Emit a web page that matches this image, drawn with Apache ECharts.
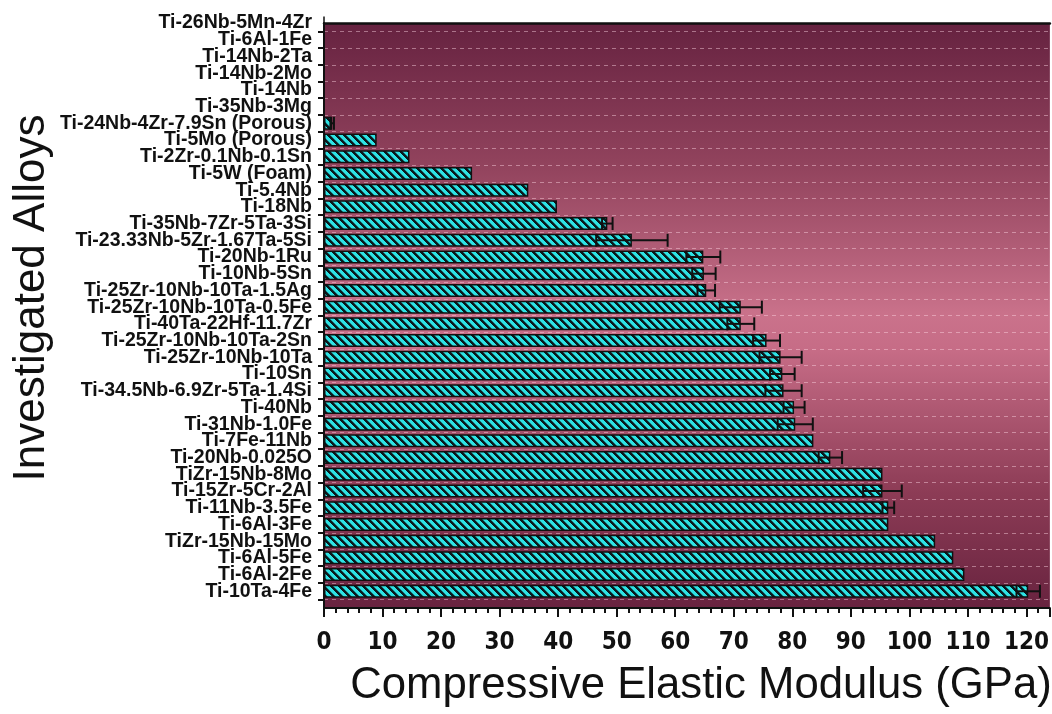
<!DOCTYPE html>
<html>
<head>
<meta charset="utf-8">
<script src="https://cdn.jsdelivr.net/npm/echarts@6/dist/echarts.min.js"></script>
<style>
html,body{margin:0;padding:0;background:#fff;}
#chart{width:1052px;height:714px;}
</style>
</head>
<body>
<div id="chart"></div>
<script>
// ---- data (top to bottom) ----
const categories = [
  'Ti-26Nb-5Mn-4Zr','Ti-6Al-1Fe','Ti-14Nb-2Ta','Ti-14Nb-2Mo','Ti-14Nb','Ti-35Nb-3Mg',
  'Ti-24Nb-4Zr-7.9Sn (Porous)','Ti-5Mo (Porous)','Ti-2Zr-0.1Nb-0.1Sn','Ti-5W (Foam)',
  'Ti-5.4Nb','Ti-18Nb','Ti-35Nb-7Zr-5Ta-3Si','Ti-23.33Nb-5Zr-1.67Ta-5Si','Ti-20Nb-1Ru',
  'Ti-10Nb-5Sn','Ti-25Zr-10Nb-10Ta-1.5Ag','Ti-25Zr-10Nb-10Ta-0.5Fe','Ti-40Ta-22Hf-11.7Zr',
  'Ti-25Zr-10Nb-10Ta-2Sn','Ti-25Zr-10Nb-10Ta','Ti-10Sn','Ti-34.5Nb-6.9Zr-5Ta-1.4Si',
  'Ti-40Nb','Ti-31Nb-1.0Fe','Ti-7Fe-11Nb','Ti-20Nb-0.025O','TiZr-15Nb-8Mo',
  'Ti-15Zr-5Cr-2Al','Ti-11Nb-3.5Fe','Ti-6Al-3Fe','TiZr-15Nb-15Mo','Ti-6Al-5Fe',
  'Ti-6Al-2Fe','Ti-10Ta-4Fe'
];
const modulus = [0,0,0,0,0,0,1.4,9,14.6,25.3,34.9,39.8,48.4,52.6,64.8,64.9,65.3,71.2,71.2,
  75.6,78,78.3,78.5,80.3,80.5,83.6,86.5,95.4,95.4,96.4,96.4,104.4,107.5,109.4,120.3];
const errors = [0,0,0,0,0,0,0.3,0,0,0,0,0,0.9,6.1,2.9,2,1.5,3.6,2.3,2.3,3.6,2.1,3.1,1.8,3,
  0,2,0,3.3,1,0,0,0,0,2];
const xTicks = {min:0, max:124, interval:10};

// category axis with one empty slot at the bottom
const yCats = categories.concat(['']);
const barData = modulus.concat([null]);
const errData = modulus.map((v,i)=>[v, i, errors[i]]);
// half-step axis for ticks/grid lines at category boundaries
const halfCats = [];
for (let j = 0; j < yCats.length*2 - 1; j++) halfCats.push(String(j));

// hatch pattern
function makeHatch(){
  const s = 8, c = document.createElement('canvas');
  c.width = s; c.height = s;
  const ctx = c.getContext('2d');
  const img = ctx.createImageData(s, s);
  const cy = [46,226,228], dk = [10,26,30];
  for (let y=0;y<s;y++) for (let x=0;x<s;x++){
    const k = (((x - y) % s) + s) % s;
    let f;
    if (k < 3) f = 1; else if (k === 3) f = 0.5; else f = 0;
    const p = (y*s+x)*4;
    for (let ch=0; ch<3; ch++) img.data[p+ch] = Math.round(dk[ch]*f + cy[ch]*(1-f));
    img.data[p+3]=255;
  }
  ctx.putImageData(img,0,0);
  return c;
}

const chart = echarts.init(document.getElementById('chart'), null, {renderer:'canvas'});
const option = {
  animation:false,
  backgroundColor:'#ffffff',
  grid:{
    left:324, top:23, right:0, bottom:106, show:true, borderWidth:0,
    backgroundColor:{type:'linear',x:0,y:0,x2:0,y2:1,colorStops:[
      {offset:0,color:'#662240'},
      {offset:0.25,color:'#93445e'},
      {offset:0.5,color:'#ca728b'},
      {offset:0.56,color:'#c66c86'},
      {offset:0.8,color:'#8d3c56'},
      {offset:1,color:'#68233f'}
    ]}
  },
  xAxis:[{
    type:'value', position:'bottom',
    min:xTicks.min, max:xTicks.max, interval:xTicks.interval,
    axisLine:{show:true,lineStyle:{color:'#111',width:2}},
    axisTick:{show:true,length:9,lineStyle:{color:'#111',width:2}},
    minorTick:{show:true,splitNumber:5,length:5,lineStyle:{color:'#111',width:2}},
    splitLine:{show:false},
    axisLabel:{showMaxLabel:false,margin:23,color:'#111',fontWeight:'bold',fontSize:24,
      fontFamily:"'Liberation Sans Narrow','DejaVu Sans Condensed','Liberation Sans',sans-serif"}
  },{
    type:'value', position:'top', min:xTicks.min, max:xTicks.max,
    axisLine:{show:true,lineStyle:{color:'#111',width:2.5}},
    axisTick:{show:false}, axisLabel:{show:false}, splitLine:{show:false}
  }],
  yAxis:[{
    type:'category', data:yCats, inverse:true, boundaryGap:false,
    axisLine:{show:true,lineStyle:{color:'#111',width:2}},
    axisTick:{show:false},
    splitLine:{show:false},
    axisLabel:{interval:0,margin:12,color:'#111',fontWeight:'bold',fontSize:19.5,
      fontFamily:"'Liberation Sans',Arial,sans-serif"}
  },{
    type:'category', data:halfCats, inverse:true, boundaryGap:false, position:'left',
    axisLine:{show:false},
    axisTick:{show:true,length:6,interval:(i)=>i%2===1,lineStyle:{color:'#111',width:2}},
    axisLabel:{show:false},
    splitLine:{show:true,interval:(i)=>i%2===1,
      lineStyle:{color:'rgba(255,215,228,0.45)',width:1,type:[4,4]}}
  }],
  series:[{
    type:'bar', data:barData, xAxisIndex:0, yAxisIndex:0, barWidth:13,
    itemStyle:{color:{image:makeHatch(),repeat:'repeat'},borderColor:'#111',borderWidth:1.5},
    z:2
  },{
    type:'custom', xAxisIndex:0, yAxisIndex:0, data:errData, z:3,
    encode:{x:0,y:1},
    renderItem:function(params, api){
      const v = api.value(0), idx = api.value(1), e = api.value(2);
      if (!e) return null;
      const lo = api.coord([v-e, idx]), hi = api.coord([v+e, idx]);
      const h = 6.5;
      const st = {stroke:'#111', lineWidth:2};
      return {type:'group', children:[
        {type:'line', shape:{x1:lo[0],y1:lo[1],x2:hi[0],y2:hi[1]}, style:st},
        {type:'line', shape:{x1:lo[0],y1:lo[1]-h,x2:lo[0],y2:lo[1]+h}, style:st},
        {type:'line', shape:{x1:hi[0],y1:hi[1]-h,x2:hi[0],y2:hi[1]+h}, style:st}
      ]};
    }
  }],
  graphic:[{
    type:'text', x:32, y:298, rotation:Math.PI/2,
    style:{text:'Investigated Alloys', font:"44px 'Liberation Sans', Arial, sans-serif",
      fill:'#111', textAlign:'center', textVerticalAlign:'middle'}
  },{
    type:'text', x:701, y:686,
    style:{text:'Compressive Elastic Modulus (GPa)', font:"43.7px 'Liberation Sans', Arial, sans-serif",
      fill:'#111', textAlign:'center', textVerticalAlign:'middle'}
  }]
};
chart.setOption(option);
</script>
</body>
</html>
